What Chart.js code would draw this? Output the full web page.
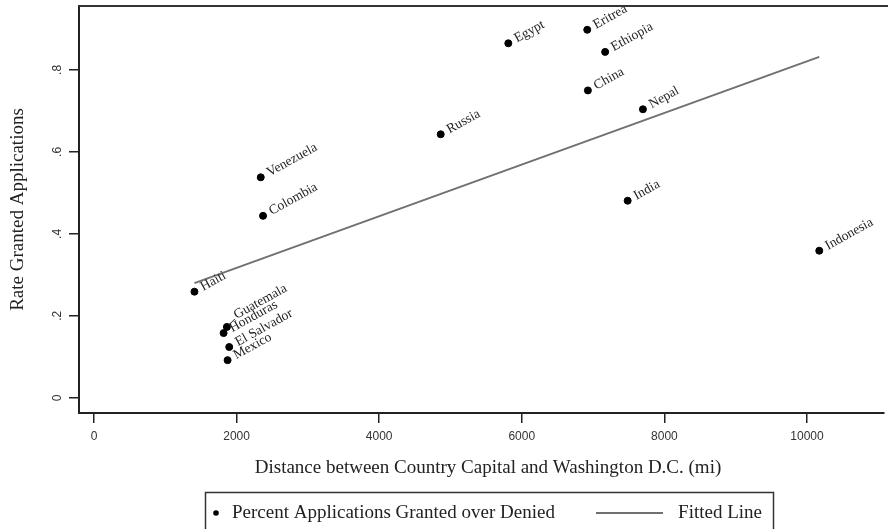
<!DOCTYPE html>
<html>
<head>
<meta charset="utf-8">
<script src="https://cdn.jsdelivr.net/npm/chart.js@4.4.1/dist/chart.umd.min.js"></script>
<style>
  html, body { margin: 0; padding: 0; background: #fff; }
  #wrap { width: 888px; height: 529px; }
</style>
</head>
<body>
<div id="wrap"><canvas id="chart" width="888" height="529"></canvas></div>
<script>
// countries, distance to DC (mi) and rate of granted applications
const countries = ['Haiti', 'Guatemala', 'Honduras', 'El Salvador', 'Mexico', 'Venezuela', 'Colombia',
    'Russia', 'Egypt', 'Eritrea', 'Ethiopia', 'China', 'Nepal', 'India', 'Indonesia'];
const distance = [1409, 1864, 1818, 1897, 1874, 2339, 2371, 4863, 5811, 6918, 7169, 6927, 7699, 7485, 10172];
const rate = [0.259, 0.173, 0.158, 0.124, 0.092, 0.538, 0.444, 0.643, 0.865, 0.898, 0.844, 0.750, 0.704, 0.481, 0.359];
// clock position of the marker label (Stata style)
const labelClock = [3, 1, 3, 3, 3, 3, 3, 3, 3, 3, 3, 3, 3, 3, 3];

// fitted line end points
const fitX = [1409, 10172];
const fitY = [0.280, 0.832];

const xTicks = [0, 2000, 4000, 6000, 8000, 10000];
const yTicks = [0, 0.2, 0.4, 0.6, 0.8];
const yTickLabels = ['0', '.2', '.4', '.6', '.8'];

const serif = "'Liberation Serif', 'Times New Roman', serif";
const sans = "'Liberation Sans', Arial, sans-serif";
const labelAngle = 29 * Math.PI / 180;

const stataPlugin = {
    id: 'stata',
    afterDraw(chart) {
        const ctx = chart.ctx;
        const area = chart.chartArea;
        const yScale = chart.scales.y;
        ctx.save();

        // top frame line
        ctx.strokeStyle = '#333';
        ctx.lineWidth = 2;
        ctx.beginPath();
        ctx.moveTo(area.left, area.top);
        ctx.lineTo(chart.width, area.top);
        ctx.stroke();

        // y tick labels, rotated
        ctx.fillStyle = '#333';
        ctx.font = '12px ' + sans;
        ctx.textAlign = 'center';
        ctx.textBaseline = 'middle';
        yTicks.forEach((v, i) => {
            const py = yScale.getPixelForValue(v);
            ctx.save();
            ctx.translate(58, py);
            ctx.rotate(-Math.PI / 2);
            ctx.fillText(yTickLabels[i], 0, 0);
            ctx.restore();
        });

        // axis titles
        ctx.fillStyle = '#222';
        ctx.font = '19px ' + serif;
        ctx.save();
        ctx.translate(18, (area.top + area.bottom) / 2);
        ctx.rotate(-Math.PI / 2);
        ctx.fillText('Rate Granted Applications', 0, 0);
        ctx.restore();
        ctx.fillText('Distance between Country Capital and Washington D.C. (mi)', 488, 468);

        // marker labels
        const meta = chart.getDatasetMeta(0);
        ctx.font = '13.5px ' + serif;
        ctx.textAlign = 'left';
        ctx.fillStyle = '#222';
        meta.data.forEach((pt, i) => {
            ctx.save();
            ctx.translate(pt.x, pt.y);
            if (labelClock[i] === 1) {
                ctx.strokeStyle = '#222';
                ctx.lineWidth = 1;
                ctx.beginPath();
                ctx.moveTo(2, -2);
                ctx.lineTo(8, -8);
                ctx.stroke();
                ctx.translate(8, -11);
                ctx.rotate(-labelAngle);
                ctx.fillText(countries[i], 0, 0);
            } else {
                ctx.rotate(-labelAngle);
                ctx.fillText(countries[i], 8, 0);
            }
            ctx.restore();
        });

        // legend
        ctx.strokeStyle = '#333';
        ctx.lineWidth = 1.5;
        ctx.strokeRect(205.5, 492.5, 568, 60);
        ctx.fillStyle = '#000';
        ctx.beginPath();
        ctx.arc(216, 513, 2.8, 0, Math.PI * 2);
        ctx.fill();
        ctx.fillStyle = '#222';
        ctx.font = '19px ' + serif;
        ctx.textAlign = 'left';
        ctx.fillText('Percent Applications Granted over Denied', 232, 513);
        ctx.strokeStyle = '#707070';
        ctx.lineWidth = 2;
        ctx.beginPath();
        ctx.moveTo(596, 513);
        ctx.lineTo(663, 513);
        ctx.stroke();
        ctx.textAlign = 'right';
        ctx.fillText('Fitted Line', 762, 513);

        ctx.restore();
    }
};

const displayChart = () => {
    const ctx = document.getElementById('chart').getContext('2d');
    new Chart(ctx, {
        type: 'scatter',
        data: {
            datasets: [{
                label: 'Percent Applications Granted over Denied',
                data: distance.map((d, i) => ({ x: d, y: rate[i] })),
                backgroundColor: '#000',
                borderColor: '#000',
                pointRadius: 3.5,
                pointHoverRadius: 3.5
            }, {
                type: 'line',
                label: 'Fitted Line',
                data: fitX.map((d, i) => ({ x: d, y: fitY[i] })),
                borderColor: '#707070',
                borderWidth: 2,
                pointRadius: 0,
                fill: false
            }]
        },
        options: {
            responsive: false,
            animation: false,
            layout: { padding: { top: 6, right: 0, left: 0, bottom: 0 } },
            plugins: {
                legend: { display: false },
                tooltip: { enabled: false }
            },
            scales: {
                x: {
                    type: 'linear',
                    min: -210,
                    max: 11073,
                    afterBuildTicks: (s) => { s.ticks = xTicks.map(v => ({ value: v })); },
                    afterFit: (s) => { s.height = 116; },
                    ticks: {
                        color: '#333',
                        font: { family: sans, size: 12 },
                        padding: 6,
                        maxRotation: 0,
                        callback: (v) => String(v)
                    },
                    grid: { drawOnChartArea: false, drawTicks: true, tickLength: 10, color: '#222', lineWidth: 1.5 },
                    border: { display: true, color: '#222', width: 2 }
                },
                y: {
                    type: 'linear',
                    min: -0.037,
                    max: 0.956,
                    afterBuildTicks: (s) => { s.ticks = yTicks.map(v => ({ value: v })); },
                    afterFit: (s) => { s.width = 79; },
                    ticks: { display: false },
                    grid: { drawOnChartArea: false, drawTicks: true, tickLength: 10, color: '#222', lineWidth: 1.5 },
                    border: { display: true, color: '#222', width: 2 }
                }
            }
        },
        plugins: [stataPlugin]
    });
};
displayChart();
</script>
</body>
</html>
